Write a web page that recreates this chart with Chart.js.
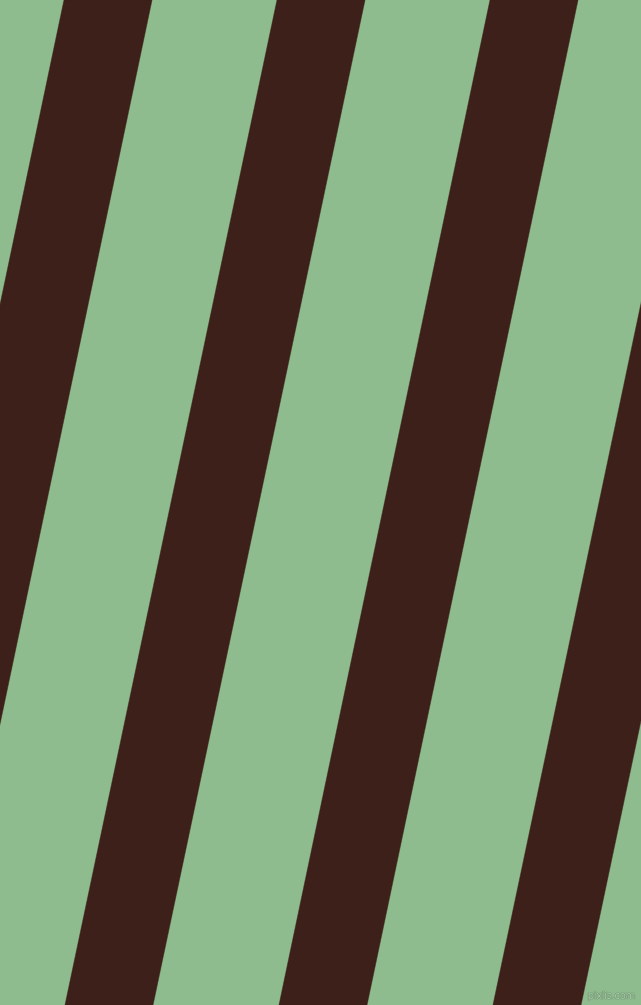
<!DOCTYPE html>
<html>
<head>
<meta charset="utf-8">
<script src="https://cdn.jsdelivr.net/npm/chart.js@4"></script>
<style>
  html, body { margin: 0; padding: 0; background: #8FBC8F; overflow: hidden; }
  #wrap { position: relative; width: 641px; height: 1005px; }
  canvas { display: block; }
  #mark { position: absolute; right: 6px; bottom: 4px; font: 10px "DejaVu Sans", sans-serif;
          color: #a8cfa8; text-shadow: 0 0 1px #556b55, 0 0 1px #556b55; letter-spacing: -0.3px; }
</style>
</head>
<body>
<div id="wrap">
  <canvas id="c" width="641" height="1005"></canvas>
  <div id="mark">pixlis.com</div>
</div>
<script>
// Stripe left-edge positions (x) at the top edge (y = 0) and bottom edge (y = 1005)
const stripeTopLeft    = [-149, 64, 277, 490, 705];
const stripeBottomLeft = [-361, -147, 65, 279, 493];
const stripeThickness  = [88, 88, 88, 88, 88];
const canvasW = 641, canvasH = 1005;
const stripeColor = '#3C2019';
const groundColor = '#8FBC8F';

const datasets = stripeTopLeft.map((t, i) => {
  const b = stripeBottomLeft[i], w = stripeThickness[i];
  return {
    label: 'stripe ' + (i + 1),
    data: [
      { x: t, y: 0 }, { x: t + w, y: 0 },
      { x: b + w, y: canvasH }, { x: b, y: canvasH }, { x: t, y: 0 }
    ],
    showLine: true,
    fill: 'shape',
    backgroundColor: stripeColor,
    borderColor: stripeColor,
    borderWidth: 0.5,
    pointRadius: 0,
    tension: 0
  };
});

new Chart(document.getElementById('c'), {
  type: 'scatter',
  data: { datasets },
  options: {
    responsive: false,
    animation: false,
    devicePixelRatio: 1,
    layout: { padding: 0 },
    plugins: { legend: { display: false }, tooltip: { enabled: false } },
    scales: {
      x: { type: 'linear', min: 0, max: canvasW, display: false },
      y: { type: 'linear', min: 0, max: canvasH, reverse: true, display: false }
    }
  },
  plugins: [{
    id: 'bg',
    beforeDraw(chart) {
      const ctx = chart.ctx;
      ctx.save();
      ctx.fillStyle = groundColor;
      ctx.fillRect(0, 0, chart.width, chart.height);
      ctx.restore();
    }
  }]
});
</script>
</body>
</html>
